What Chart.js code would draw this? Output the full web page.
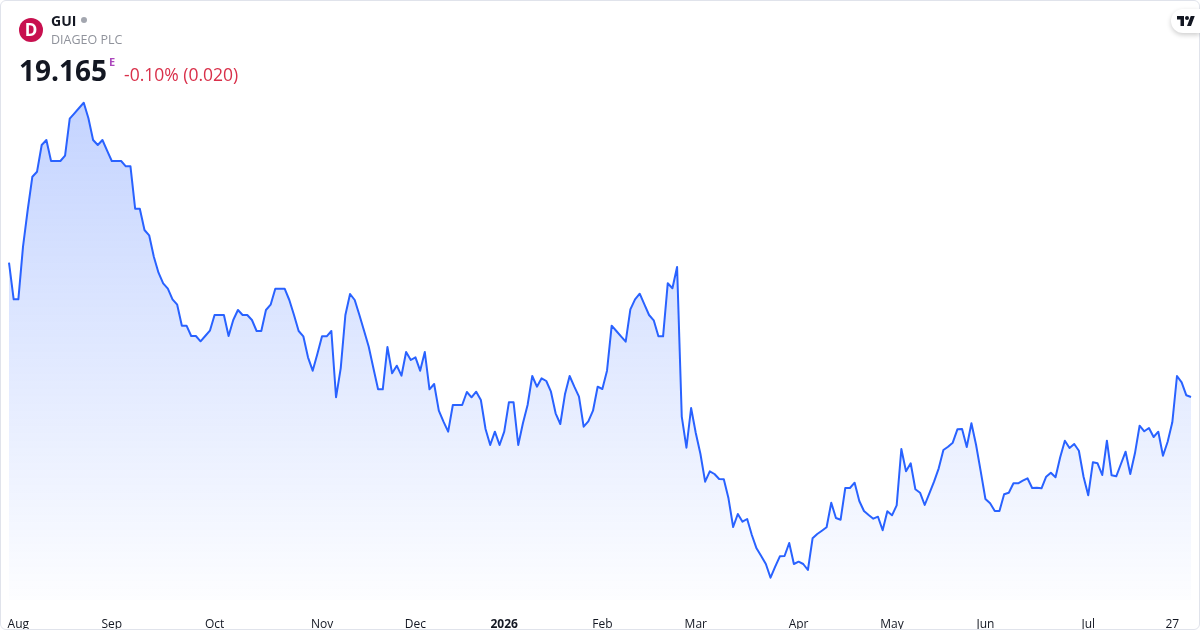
<!DOCTYPE html>
<html>
<head>
<meta charset="utf-8">
<script src="https://cdn.jsdelivr.net/npm/chart.js@4"></script>
<style>
html,body{margin:0;padding:0;background:#fff;overflow:hidden}
#wrap{position:relative;width:1200px;height:630px;font-family:"Open Sans",sans-serif}
canvas{position:absolute;left:0;top:0}
#frame{position:absolute;left:0;top:0;width:1198px;height:628px;border:1px solid #e0e3eb;border-radius:6px;pointer-events:none}
.t{position:absolute;white-space:nowrap;line-height:1}
#logo{position:absolute;left:19px;top:18px;width:24px;height:24px;border-radius:50%;background:#c8104f;color:#fff;font:bold 17px/24px "Open Sans",sans-serif;text-align:center}
#dot{position:absolute;left:81px;top:17px;width:6px;height:6px;border-radius:50%;background:#a3a6af}
#tv{position:absolute;left:1171px;top:9px;width:29px;height:24px;background:#fff;border-radius:12px 0 0 12px;box-shadow:0 2px 5px rgba(0,0,0,.2)}
#tv svg{position:absolute;left:6px;top:7px}
</style>
</head>
<body>
<div id="wrap">
<canvas id="c" width="1200" height="630"></canvas>
<div id="frame"></div>
<div id="logo">D</div>
<div class="t" style="left:51px;top:14px;font-size:14px;font-weight:700;color:#131722">GUI</div>
<div id="dot"></div>
<div class="t" style="left:51px;top:34px;font-size:12.5px;color:#8f929b">DIAGEO PLC</div>
<div class="t" style="left:19px;top:56px;font-size:28px;font-weight:700;color:#131722">19.165</div>
<div class="t" style="left:109px;top:56px;font-size:11px;font-weight:700;color:#ab47bc">E</div>
<div class="t" style="left:124px;top:66px;font-size:17.5px;color:#d9304a">-0.10% (0.020)</div>
<div id="tv"><svg width="18" height="10" viewBox="0 0 36 20"><path fill="#131722" d="M14 20H7V7H0V0h14v20zM28 20h-8L27.5 0h8L28 20z"/><circle fill="#131722" cx="20" cy="4" r="4"/></svg></div>
</div>
<script>
const tickPositions=[2,22,44,67,87,106,127,147,169,189,209,231,249];
const tickLabels=["Aug","Sep","Oct","Nov","Dec","2026","Feb","Mar","Apr","May","Jun","Jul","27"];
const prices=[
21.851,21.119,21.119,22.171,22.905,23.571,23.671,24.205,24.305,23.885,
23.885,23.885,23.991,24.731,24.839,24.945,25.051,24.739,24.305,24.205,
24.305,24.091,23.885,23.885,23.885,23.779,23.779,22.931,22.931,22.505,
22.399,21.971,21.651,21.439,21.331,21.119,21.011,20.591,20.591,20.385,
20.385,20.279,20.385,20.491,20.805,20.805,20.805,20.385,20.705,20.905,
20.805,20.805,20.705,20.485,20.485,20.905,21.011,21.331,21.331,21.331,
21.105,20.805,20.485,20.379,19.959,19.691,20.025,20.379,20.379,20.485,
19.159,19.739,20.805,21.225,21.105,20.805,20.491,20.171,19.739,19.319,
19.319,20.165,19.639,19.791,19.591,20.065,19.905,19.959,19.691,20.065,
19.319,19.425,18.891,18.671,18.471,19.005,19.005,19.005,19.265,19.159,
19.271,19.105,18.525,18.205,18.471,18.205,18.471,19.059,19.059,18.205,
18.639,19.005,19.585,19.371,19.539,19.485,19.271,18.839,18.625,19.219,
19.585,19.371,19.171,18.571,18.679,18.891,19.371,19.325,19.691,20.591,
20.485,20.379,20.271,20.919,21.119,21.231,21.019,20.805,20.699,20.379,
20.379,21.439,21.339,21.765,18.771,18.151,18.945,18.445,18.025,17.471,
17.679,17.625,17.525,17.519,17.139,16.565,16.825,16.671,16.725,16.405,
16.139,15.985,15.825,15.551,15.771,15.979,15.985,16.245,15.825,15.871,
15.825,15.705,16.339,16.425,16.491,16.559,17.051,16.745,16.711,17.345,
17.345,17.451,17.085,16.885,16.805,16.731,16.771,16.499,16.879,16.799,
16.999,18.125,17.679,17.839,17.319,17.251,17.005,17.239,17.471,17.739,
18.105,18.171,18.251,18.519,18.525,18.165,18.639,18.205,17.671,17.125,
17.039,16.885,16.885,17.219,17.251,17.439,17.439,17.491,17.539,17.345,
17.351,17.339,17.571,17.651,17.559,17.959,18.291,18.145,18.225,18.091,
17.571,17.199,17.859,17.839,17.605,18.291,17.599,17.579,17.825,18.071,
17.625,18.039,18.591,18.479,18.545,18.365,18.471,17.991,18.271,18.659,
19.585,19.459,19.199,19.165];
const yMin=15.105, yMax=27.105;
const categories=prices.map((_,i)=>{const k=tickPositions.indexOf(i);return k>=0?tickLabels[k]:"";});

new Chart(document.getElementById("c"),{
  type:"line",
  data:{labels:categories,datasets:[{
    data:prices,
    borderColor:"#2962ff",
    borderWidth:2,
    borderJoinStyle:"round",
    pointRadius:0,
    tension:0,
    fill:"start",
    backgroundColor(ctx){
      const a=ctx.chart.chartArea;
      if(!a) return "rgba(41,98,255,0.2)";
      const g=ctx.chart.ctx.createLinearGradient(0,a.top,0,a.bottom);
      g.addColorStop(0,"rgba(41,98,255,0.33)");
      g.addColorStop(1,"rgba(41,98,255,0.01)");
      return g;
    }
  }]},
  options:{
    responsive:false,
    animation:false,
    devicePixelRatio:1,
    layout:{padding:{left:2.33,right:8.6,top:0,bottom:0}},
    plugins:{legend:{display:false},tooltip:{enabled:false},title:{display:false}},
    scales:{
      y:{display:false,min:yMin,max:yMax},
      x:{
        grid:{display:false},
        border:{display:false},
        afterFit(s){s.height=30;},
        ticks:{
          autoSkip:false,
          maxRotation:0,
          minRotation:0,
          padding:9,
          color:"#131722",
          callback(v){return this.getLabelForValue(v);},
          font(ctx){
            const bold=ctx.tick&&ctx.tick.label==="2026";
            return {family:'"Open Sans",sans-serif',size:12,weight:bold?"700":"400"};
          }
        }
      }
    }
  }
});
</script>
</body>
</html>
